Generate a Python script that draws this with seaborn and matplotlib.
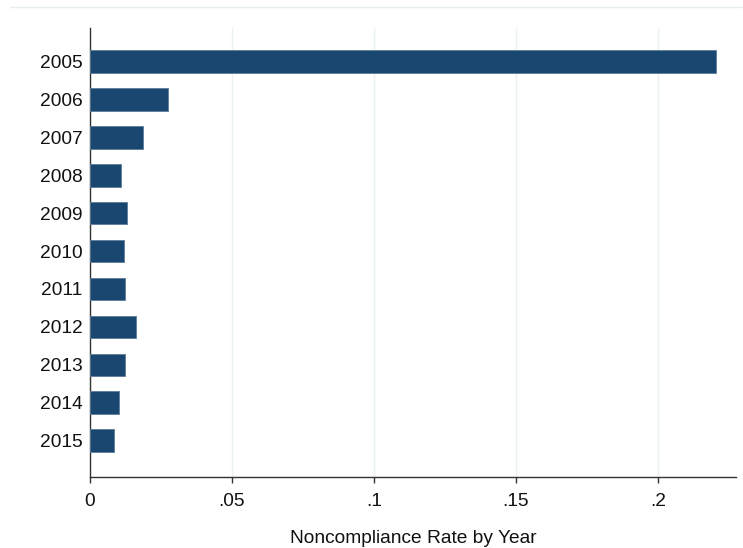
import matplotlib
matplotlib.use("Agg")
import matplotlib.pyplot as plt
from matplotlib.lines import Line2D
import seaborn as sns
import pandas as pd

# Noncompliance rate per year
years = ["2005", "2006", "2007", "2008", "2009", "2010",
         "2011", "2012", "2013", "2014", "2015"]
rates = [0.2204, 0.0276, 0.0188, 0.0110, 0.0129, 0.0120,
         0.0124, 0.0163, 0.0124, 0.0103, 0.0086]
xticks = [0, 0.05, 0.1, 0.15, 0.2]
xtick_labels = ["0", ".05", ".1", ".15", ".2"]

df = pd.DataFrame({"year": years, "rate": rates})

sns.set_theme(style="white")
plt.rcParams["font.family"] = ["Liberation Sans", "DejaVu Sans"]

W, H = 743, 548
fig = plt.figure(figsize=(W / 100, H / 100), dpi=100)
ax = fig.add_axes([90 / W, 1 - 477 / H, (735.7 - 90) / W, (477 - 28) / H])

navy = "#1a476f"
sns.barplot(data=df, x="rate", y="year", order=years, orient="h",
            color=navy, saturation=1, width=0.6, ax=ax,
            edgecolor="#5d7c99", linewidth=0.6, zorder=3)

ax.set_xlim(0, 0.2274)
ax.set_ylim(10.954, -0.877)

ax.set_xticks(xticks)
ax.set_xticklabels(xtick_labels)
ax.xaxis.grid(True, color="#eaf2f3", linewidth=1.0, zorder=0)
ax.yaxis.grid(False)
ax.set_axisbelow(True)

for side in ("top", "right"):
    ax.spines[side].set_visible(False)
for side in ("left", "bottom"):
    ax.spines[side].set_color("#333333")
    ax.spines[side].set_linewidth(1.0)

ax.tick_params(axis="x", bottom=True, length=4.3, width=1.0, color="#333333",
               pad=7, labelsize=13.8, labelcolor="#111111")
ax.tick_params(axis="y", left=False, length=0, pad=5.5, labelsize=13.8,
               labelcolor="#111111")

ax.set_ylabel("")
ax.set_xlabel("Noncompliance Rate by Year", fontsize=13.8, color="#111111",
              labelpad=14.5)

# faint frame line across the top of the graph region
fig.add_artist(Line2D([10 / W, 742 / W], [1 - 7 / H, 1 - 7 / H],
                      transform=fig.transFigure, color="#e6eeee", linewidth=1.0))

fig.savefig("out.png", dpi=100, facecolor="white")
